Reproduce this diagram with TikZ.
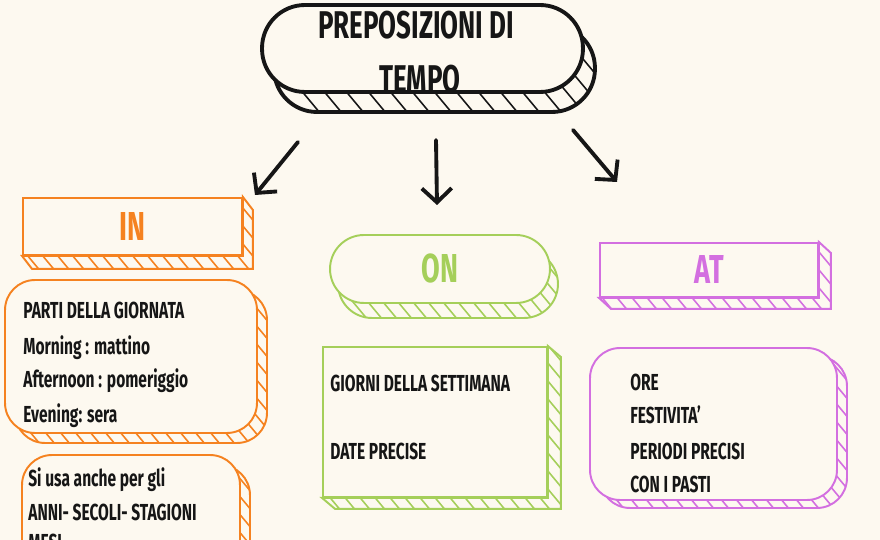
\documentclass[tikz,border=0pt]{standalone}
\usepackage{fontspec}
\setmainfont{Fira Sans}[FakeStretch=0.67]
\usetikzlibrary{calc, arrows.meta}
\definecolor{paper}{HTML}{FDF9F0}
\definecolor{ink}{HTML}{161616}
\definecolor{inorange}{HTML}{F58220}
\definecolor{ongreen}{HTML}{A5CF5A}
\definecolor{atpurple}{HTML}{D36FE0}
\tikzset{
face/.style={draw=#1, fill=paper, line width=1.1pt, inner sep=0pt}, % front of a slab
hatch/.style 2 args={draw=#1, fill=paper, line width=1.1pt, inner sep=0pt,
  path picture={\foreach \k in {-12,...,32}
    \draw[#1, line width=0.9pt] ($(path picture bounding box.north west)+(\k*#2,-20)$) -- ++(300,360);}},
tag/.style={text=#1, font=\fontsize{23}{26}\selectfont\bfseries},
entry/.style={anchor=base west, inner sep=0pt, text=ink, font=\fontsize{13.2}{15}\selectfont\bfseries},
pointer/.style={-{Straight Barb[length=8pt,width=17pt]}, line width=2.2pt, draw=ink, line cap=round},
}
\begin{document}
\begin{tikzpicture}[x=0.02cm, y=-0.02cm]
        \fill[paper] (0,0) rectangle (880,540);
        \useasboundingbox (0,0) rectangle (880,540);

        % title
        \node[hatch={ink}{22}, line width=2.2pt, rounded corners=0.86cm, minimum width=6.42cm, minimum height=1.74cm] (title-b) at (434.5,68.5) {};
        \node[face=ink, line width=2.2pt, rounded corners=0.86cm, minimum width=6.42cm, minimum height=1.74cm] (title) at (422.5,48.5) {};
        \node[anchor=base, text=ink, font=\fontsize{22}{26}\selectfont\bfseries] (t1) at (416,39) {PREPOSIZIONI DI};
        \node[anchor=base, text=ink, font=\fontsize{22}{26}\selectfont\bfseries] (t2) at (420,93) {TEMPO};

        % arrows
        \coordinate (l0) at (298,142); \coordinate (l1) at (255,195);
        \coordinate (m0) at (436,140); \coordinate (m1) at (437,205);
        \coordinate (r0) at (573,130); \coordinate (r1) at (617,182);
        \draw[pointer] (l0) -- (l1);
        \draw[pointer] (m0) -- (m1);
        \draw[pointer] (r0) -- (r1);

        % IN
        \node[face=inorange, minimum width=4.38cm, minimum height=1.14cm, tag=inorange] (in) at (132.5,226.5) {IN};
        \path[hatch={inorange}{15}] (in.north east) -- ($(in.north east)+(10,13)$) -- ($(in.south east)+(10,13)$)
          -- ($(in.south west)+(10,13)$) -- (in.south west) -- (in.south east) -- cycle;

        \node[hatch={inorange}{15}, rounded corners=0.6cm, minimum width=5.04cm, minimum height=3.06cm] (in1-b) at (141,366.5) {};
        \node[face=inorange, rounded corners=0.6cm, minimum width=5.04cm, minimum height=3.06cm] (in1) at (131,356.5) {};
        \node[entry] (p1) at (23,319) {PARTI DELLA GIORNATA};
        \node[entry] (p2) at (23,355) {Morning : mattino};
        \node[entry] (p3) at (23,388) {Afternoon : pomeriggio};
        \node[entry] (p4) at (23,423) {Evening: sera};

        \node[hatch={inorange}{15}, rounded corners=0.6cm, minimum width=4.36cm, minimum height=3.2cm] (in2-b) at (141,545) {};
        \node[face=inorange, rounded corners=0.6cm, minimum width=4.36cm, minimum height=3.2cm] (in2) at (131,535) {};
        \node[entry] (s1) at (28,487) {Si usa anche per gli};
        \node[entry] (s2) at (28,521) {ANNI- SECOLI- STAGIONI};
        \node[entry] (s3) at (28,551) {MESI};

        % ON
        \node[hatch={ongreen}{15}, rounded corners=0.68cm, minimum width=4.4cm, minimum height=1.36cm] (on-b) at (448,284) {};
        \node[face=ongreen, rounded corners=0.68cm, minimum width=4.4cm, minimum height=1.36cm, tag=ongreen] (on) at (440,269) {ON};

        \node[face=ongreen, minimum width=4.48cm, minimum height=3.0cm] (on1) at (435,422) {};
        \path[hatch={ongreen}{15}] (on1.north east) -- ($(on1.north east)+(13,11)$) -- ($(on1.south east)+(13,11)$)
          -- ($(on1.south west)+(13,11)$) -- (on1.south west) -- (on1.south east) -- cycle;
        \node[entry] (g1) at (330,392) {GIORNI DELLA SETTIMANA};
        \node[entry] (g2) at (330,460) {DATE PRECISE};

        % AT
        \node[face=atpurple, minimum width=4.36cm, minimum height=1.08cm, tag=atpurple] (at) at (709,270) {AT};
        \path[hatch={atpurple}{15}] (at.north east) -- ($(at.north east)+(12,11)$) -- ($(at.south east)+(12,11)$)
          -- ($(at.south west)+(12,11)$) -- (at.south west) -- (at.south east) -- cycle;

        \node[hatch={atpurple}{15}, rounded corners=0.6cm, minimum width=4.94cm, minimum height=3.04cm] (at1-b) at (723.5,432) {};
        \node[face=atpurple, rounded corners=0.6cm, minimum width=4.94cm, minimum height=3.04cm] (at1) at (713.5,424) {};
        \node[entry] (o1) at (630,391) {ORE};
        \node[entry] (o2) at (630,424) {FESTIVITA’};
        \node[entry] (o3) at (630,460) {PERIODI PRECISI};
        \node[entry] (o4) at (630,493) {CON I PASTI};
\end{tikzpicture}
\end{document}
